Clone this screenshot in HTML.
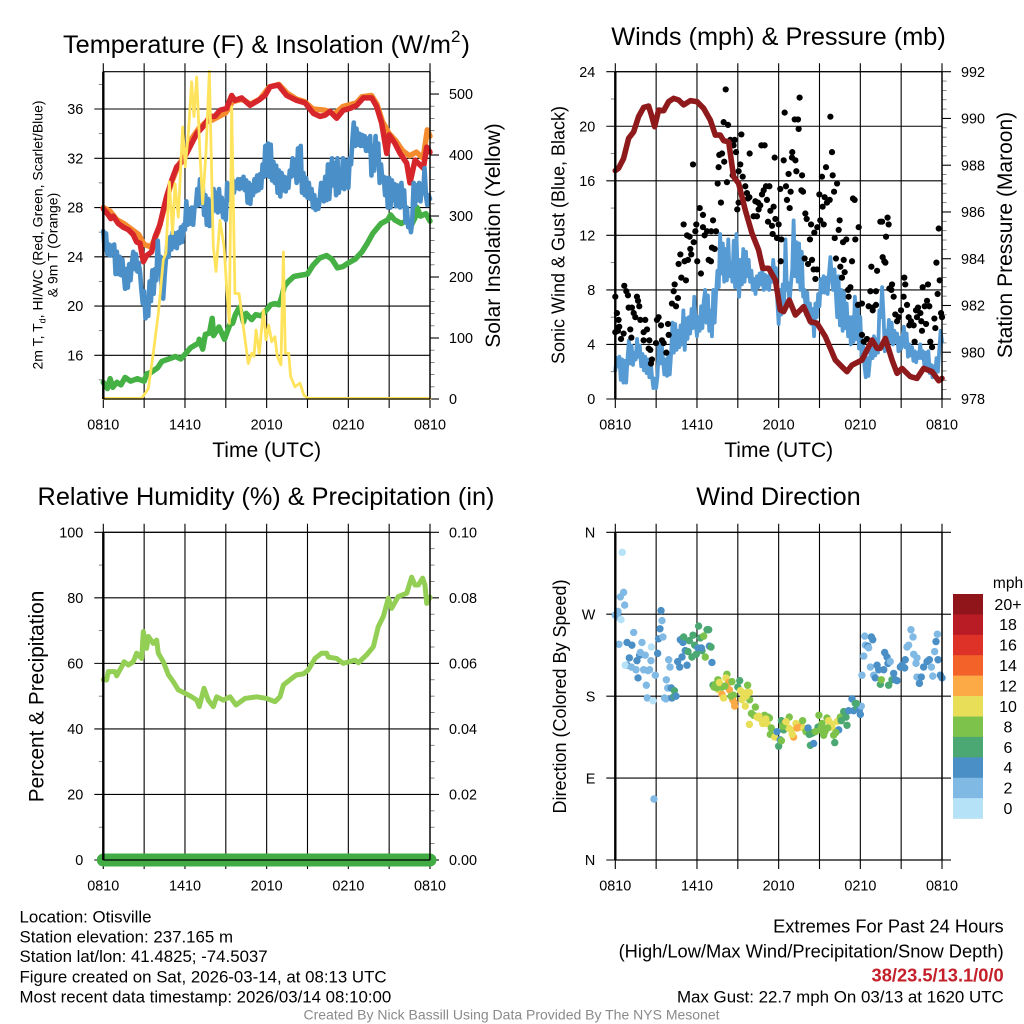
<!DOCTYPE html>
<html lang="en">
<head>
<meta charset="utf-8">
<title>Otisville Station Meteogram</title>
<style>
html,body{margin:0;padding:0;background:#fff;}
svg{display:block;}
text{font-family:"Liberation Sans",Arial,sans-serif;fill:#000;}
</style>
</head>
<body>
<svg id="fig" xmlns="http://www.w3.org/2000/svg" width="1024" height="1024" viewBox="0 0 1024 1024">
<rect x="0" y="0" width="1024" height="1024" fill="#fff"/>
<g id="layer"></g>

<text x="63" y="53" font-size="25.3">Temperature (F) &amp; Insolation (W/m<tspan font-size="17" dy="-11">2</tspan><tspan dy="11" dx="1">)</tspan></text>
<text x="778.5" y="45" font-size="25.3" text-anchor="middle">Winds (mph) &amp; Pressure (mb)</text>
<text x="266" y="505" font-size="25.3" text-anchor="middle">Relative Humidity (%) &amp; Precipitation (in)</text>
<text x="778.5" y="505" font-size="25.3" text-anchor="middle">Wind Direction</text>

<text x="266.7" y="457" font-size="21" text-anchor="middle">Time (UTC)</text>
<text x="778.7" y="457" font-size="21" text-anchor="middle">Time (UTC)</text>

<text transform="translate(42.7,235) rotate(-90)" font-size="14" text-anchor="middle">2m T, T<tspan font-size="9" dy="3">d</tspan><tspan dy="-3">, HI/WC (Red, Green, Scarlet/Blue)</tspan></text>
<text transform="translate(57.7,245) rotate(-90)" font-size="14" text-anchor="middle">&amp; 9m T (Orange)</text>
<text transform="translate(500,235.5) rotate(-90)" font-size="21" text-anchor="middle">Solar Insolation (Yellow)</text>
<text transform="translate(564.7,235) rotate(-90)" font-size="18" text-anchor="middle">Sonic Wind &amp; Gust (Blue, Black)</text>
<text transform="translate(1012,235) rotate(-90)" font-size="21" text-anchor="middle">Station Pressure (Maroon)</text>
<text transform="translate(43.3,696.5) rotate(-90)" font-size="20.8" text-anchor="middle">Percent &amp; Precipitation</text>
<text transform="translate(566,696.5) rotate(-90)" font-size="18" text-anchor="middle">Direction (Colored By Speed)</text>

<text x="1008" y="588" font-size="15.5" text-anchor="middle">mph</text>

<g font-size="16.85">
<text x="19.5" y="922.7">Location: Otisville</text>
<text x="19.5" y="942.7">Station elevation: 237.165 m</text>
<text x="19.5" y="962">Station lat/lon: 41.4825; -74.5037</text>
<text x="19.5" y="982.3">Figure created on Sat, 2026-03-14, at 08:13 UTC</text>
<text x="19.5" y="1002.3">Most recent data timestamp: 2026/03/14 08:10:00</text>
</g>
<g text-anchor="end">
<text x="1003.7" y="932.7" font-size="18.3">Extremes For Past 24 Hours</text>
<text x="1003.7" y="957.3" font-size="18.3">(High/Low/Max Wind/Precipitation/Snow Depth)</text>
<text x="1003.7" y="981.7" font-size="18.3" font-weight="bold" style="fill:#c4202a">38/23.5/13.1/0/0</text>
<text x="1003.7" y="1002.3" font-size="16.9">Max Gust: 22.7 mph On 03/13 at 1620 UTC</text>
</g>
<text x="511.5" y="1019.3" font-size="14" text-anchor="middle" style="fill:#8a8a8a">Created By Nick Bassill Using Data Provided By The NYS Mesonet</text>
</svg>

<script>
/* ---------- shared axis data ---------- */
const xTickHours = [0,3,6,9,12,15,18,21,24];
const xTickLabels = ['0810','','1410','','2010','','0210','','0810'];

const tempTicks = [16,20,24,28,32,36];
const tempMinor = [14,18,22,26,30,34,38];
const solarTicks = [0,100,200,300,400,500];
const solarMinor = [20,40,60,80,120,140,160,180,220,240,260,280,320,340,360,380,420,440,460,480,520];
const windTicks = [0,4,8,12,16,20,24];
const windMinor = [2,6,10,14,18,22];
const pressTicks = [978,980,982,984,986,988,990,992];
const pressMinor = [978.4,978.8,979.2,979.6,980.4,980.8,981.2,981.6,982.4,982.8,983.2,983.6,984.4,984.8,985.2,985.6,986.4,986.8,987.2,987.6,988.4,988.8,989.2,989.6,990.4,990.8,991.2,991.6];
const rhTicks = [0,20,40,60,80,100];
const rhMinor = [10,30,50,70,90];
const precipTicks = [0,0.02,0.04,0.06,0.08,0.10];
const precipTickLabels = ['0.00','0.02','0.04','0.06','0.08','0.10'];
const precipMinor = [0.005,0.01,0.015,0.025,0.03,0.035,0.045,0.05,0.055,0.065,0.07,0.075,0.085,0.09,0.095];
const dirTicks = [0,90,180,270,360];
const dirTickLabels = ['N','E','S','W','N'];

/* ---------- temperature panel ---------- */
const orangeTime = [0,.5,1,1.5,2,2.6,3,3.5,4,4.5,5,5.5,6,6.5,7,7.5,8,9,9.5,10.2,10.8,11.5,12.2,12.9,13.5,14.2,14.8,15.4,16.3,17,17.6,18.6,19,19.7,20.1,20.5,21,21.5,22,22.5,23,23.5,23.8,24];
const orangeTemp = [28,27.7,27,26.7,26.3,25.8,25,24.8,26,28,30,31.4,32.3,33.6,34.4,34.9,35.1,35.7,36.6,36.8,36.4,36.8,37.8,38,37.3,36.8,36.6,36,35.9,35.6,36.2,36.5,37,37.1,36.4,35,34,33.4,32.6,32.2,32.5,32,34.3,33.8];

const redTime = [0,.37,.55,.73,1.1,1.47,1.84,2.2,2.45,2.7,2.94,3.18,3.55,3.8,4.16,4.41,4.65,5.02,5.39,5.76,6.12,6.49,6.86,7.35,7.84,8.2,8.57,9.06,9.43,9.67,10.16,10.78,11.39,11.88,12.25,12.86,13.47,14.2,14.82,15.43,15.92,16.29,16.65,17.14,17.63,18.12,18.61,19.1,19.72,20.08,20.45,20.82,21,21.43,21.8,22.29,22.53,22.9,23.51,23.76,24];
const redTemp = [27.9,27.4,27.1,27.3,26.7,26.4,26.2,25.8,25.2,25.1,23.6,24.1,24.4,25.6,26.6,27.8,28.9,30.2,31.3,31.7,32.4,33.2,34,34.6,35.4,35.4,35.9,36.05,37.1,36.7,36.9,36.3,36.7,37.1,37.8,37.95,37.1,36.7,36.5,35.65,35.4,35.5,35.8,35.25,35.9,36.05,36.3,36.9,36.9,36.2,34.85,32.4,33.9,33.2,32.4,31.6,30,31.85,31.2,32.9,32.5];

const greenTime = [0,.3,.5,.7,1,1.3,1.6,2,2.5,3,3.2,3.5,4,4.3,4.8,5.3,5.7,6.1,6.4,7,7.05,7.3,7.5,7.8,8,8.1,8.5,8.9,9.3,9.5,9.7,10,10.3,10.5,10.9,11.2,11.6,12,12.3,12.6,12.9,13.1,13.3,13.6,14,14.5,15,15.4,15.9,16.4,16.8,17.2,17.6,18,18.5,19,19.4,19.8,20.4,20.9,21.1,21.4,21.9,22.2,22.6,23,23.05,23.3,23.7,24];
const greenTemp = [13.8,13.3,14.1,13.4,13.8,13.6,14.2,13.9,14.1,13.9,14.5,14.6,15,15.5,15.7,15.9,15.7,16.2,16.6,17,17.3,16.5,17.7,17.8,19,17.6,18.3,17.3,18.5,18.6,19.3,19.9,18.7,19.4,18.9,19.3,19.2,19.7,20.1,20.2,20.1,20.7,21.6,22,22.4,22.5,22.6,23.3,23.9,24.1,23.8,23.1,23.2,23.5,23.8,24.4,25.1,25.9,26.7,27,27.4,27,26.7,26.9,26.5,27.4,28,27.3,27.5,26.9];

/* dew point: one reading per 0.1 h from 0810 */
const dewStepHours = 0.1;
const dewTemp = [
26.1,24.6,25.9,24.2,25,24.1,24.9,24.3,25,22.6,
24.4,22.6,24,22.5,23.8,22.6,21.4,23,21.5,23.4,
22.1,23.5,24.4,23,24.2,22.8,23.5,22.7,21.3,20.2,
21.2,19,20,19.2,22,20.4,22.9,21,23,22.1,
25.3,23,24,21.2,20.6,22.4,23.8,25,24,25.6,
24.6,26,24.8,25.9,24.7,26,25.1,26.4,25.2,26.6,
26.2,28.5,26.6,27.8,26.7,28,26.6,28,28.1,29.5,
28.2,30.3,28.4,29.9,27.4,29,26.6,28.7,26.5,28.5,
27.6,29.5,27.8,29.2,27.6,29.5,27.7,28.8,27.2,28.5,
27,30,28.6,29.8,29,30.2,29.2,30.1,29.6,30.3,
29.5,30.3,29.6,30.5,29.4,30.2,28.4,30,28.3,29.8,
29,30.3,29.3,30.6,29.4,30.7,29.6,31.5,30.5,33,
30.6,33.2,30.5,33.1,30.2,31.7,30,31.4,29.2,31,
28.9,30.8,29.4,30.5,29.3,30.4,29.6,31,30.5,32,
30.6,31.8,30,32.8,30.2,33,29.2,30.8,29,30.4,
28.8,30,28.7,29.5,28,29,27.8,28.6,27.9,28.7,
30,28.8,28.5,30.5,28.6,31.5,28.7,30.4,32,29.8,
31.6,29,32,29.2,30.5,29.6,32,29.5,31.8,30,
29.6,32,31.5,33.5,34.9,33,34.4,33.1,34,33,
33.9,33,33.8,32.6,33.6,32.6,33.8,30.6,33,31,
33.8,31.5,33.2,30,31.5,30.2,30.5,29,30.4,28,
30.4,28,30.2,28.6,29.9,28.1,29.8,28.7,28,30,
28.2,29.4,26.8,28,26.4,26.9,26,27,30,28.2,
29.8,28.6,30,28.5,29.6,29.2,31.2,29,28.2,29,
28.7];

const solarTime = [0,2.82,3.31,3.67,4.04,4.41,4.6,4.85,5.09,5.27,5.51,5.83,6.02,6.25,6.49,6.66,6.86,7.1,7.3,7.54,7.79,8.08,8.28,8.57,8.87,9.06,9.26,9.43,9.67,9.97,10.29,10.65,10.9,11.07,11.22,11.46,11.76,11.95,12.15,12.37,12.61,12.78,13.05,13.23,13.37,13.62,13.76,14.08,14.45,14.74,15.06,24];
const solarFlux = [1,1,17,75,140,228,239,356,271,353,298,446,381,436,520,463,528,403,320,403,537,250,209,293,250,184,124,479,173,173,118,58,75,70,113,75,146,97,121,94,102,70,56,241,75,75,37,20,26,6,1,1];

/* ---------- wind panel ---------- */
/* sonic wind: one reading per 0.1 h from 0810 */
const windStepHours = 0.1;
const windSpeed = [
2.1,3,2.4,3.1,1.4,2.9,1.2,2.8,1.2,3,
4.3,2.6,3.9,2.5,3.4,2.9,4.4,3.1,3.9,2.4,
3.3,2.1,3.1,1.9,2.9,1.6,2.8,1.6,.8,1.5,
.8,1.7,4,2.6,4.2,2.9,1.8,2.9,1.7,3.3,
1.8,3.3,5.6,3.4,5.5,3.6,5,3.8,5.4,4,
6.5,3.6,5.9,4.4,6,4.8,6.6,5.2,7.5,5.6,
4.6,6,5,6.8,5.2,7.2,8,5.6,7.6,5,
6.5,4.6,8,5.6,7.7,9.4,8.2,12.1,9.2,11.4,
8.6,11,8.7,11.7,9,10,8.6,11.6,8.2,12.1,
9,7.5,10.2,8.4,11,8.6,10.8,9,10.2,8.6,
9.4,8,8.8,7.7,9,8.2,9.2,8.4,9.5,8,
9.1,8.1,9,8,9.6,8.6,10.2,8.8,9.6,7.2,
5.5,8,6.2,8.4,6.8,11.7,8,8.5,7,8.4,
9.5,13.1,9,11.5,8.6,11.4,8,10.8,7.5,8,
6.2,7.8,5.8,7,5.5,6.6,4.6,7,6,7.7,
6.8,8.8,7.8,9,7.8,8.9,7.7,9.2,10.4,9,
8,9.5,7.8,6,9,5.4,8,5,7.8,5.2,
7,4.6,6,4,6,4.2,7.5,4.4,7,3.7,
6,3.2,4,2.5,1.6,3,1.7,2.8,3.9,3,
4.6,3.2,4.4,3.4,6.5,6,8.2,6.2,3.5,5,
4,5.8,4.2,5.6,4,5,4.2,4.8,3.5,4.5,
3.7,4.6,5.3,3.8,4.8,3.1,4,3.2,3.8,2.8,
3.5,2.7,3.4,3,4,3,3.5,2.5,3.4,2.1,
3.5,1.9,2.5,1.6,2.4,1.9,3,2,3.6,5,
4.2];

const gustTime = [
0,.12,.24,0,.29,.2,.61,.42,.66,.81,
.93,.98,1.22,1.1,1.18,1.35,1.47,1.59,1.67,1.76,
1.84,2.2,2.33,2.08,2.08,2.5,2.45,2.57,2.69,2.62,
2.99,3.18,3.06,3.36,3.43,3.55,3.75,3.87,3.92,4.16,
4.46,4.6,4.29,4.36,4.65,4.78,4.85,5.19,5.02,5.09,
5.34,5.58,5.51,5.76,5.27,5.46,5.71,5.88,5.95,6.02,
6.29,6.2,6.44,6.44,6.56,6.74,6.86,7.03,7.1,7.3,
7.18,7.05,7.4,7.52,7.59,7.64,7.84,7.76,8,8.2,
7.96,8.28,8.11,8.45,8.62,8.77,8.69,8.87,9.18,9.06,
9.36,9.55,8.96,9.26,9.06,9.67,9.85,9.75,9.87,10.16,
10.41,10.29,10.48,10.65,10.53,10.73,10.97,10.78,10.9,11.07,
11.32,11.14,11.39,11.63,11.22,11.51,11.56,11.88,12.2,11.76,
12,11.71,12.12,12.44,12.37,12.54,12.61,12.73,12.81,12.88,
12.15,13,12.98,13.23,13.3,13.18,13.42,13.47,13.54,13.72,
13.67,13.79,13.96,14.06,14.38,13.91,14.16,14.45,14.3,14.62,
14.84,14.57,14.82,14.7,15.06,15.31,14.99,15.18,15.23,15.38,
15.55,15.75,15.48,15.8,15.92,15.97,16.07,16.29,16.12,16.21,
16.41,16.48,16.53,16.78,16.73,16.97,16.65,16.85,17.1,17.27,
17.14,17.39,17.46,17.58,17.63,17.88,17.83,18.12,18.12,18.25,
18.49,18.81,19.23,18.74,19.15,18.61,18.91,19.15,18.91,19.47,
19.6,20,20.08,19.89,19.64,19.76,19.84,20.13,20.33,20.28,
20.45,20.57,20.82,20.7,20.99,21.23,21.3,21.18,21.43,21.55,
21.72,21.92,21.6,21.99,22.09,22.24,22.16,22.41,22.58,22.97,
22.48,22.83,22.53,22.73,22.9,23.07,23.14,23.27,23.44,23.51,
23.59,23.68,23.76,23.83,23.93,24];
const gustSpeed = [
7.5,6.3,5.8,4.9,5.3,5,4.8,4.4,8.3,7.9,
7.6,6.7,6.7,5.1,4.5,6.3,6,7.5,7.2,6.8,
5.8,5.8,5.1,4.9,4.3,4.3,3.7,3.6,2.9,2.6,
4.1,6,5.8,5.4,4.3,4.1,3.4,5.5,4.7,7,
6.8,7.4,7.9,8.4,9.9,10.6,8.9,8.7,12.8,10.1,
10.2,10.6,11,11.5,12,11.9,17.2,12.3,12.8,10.1,
9.2,14,13.5,12.6,12,12.3,10.2,10.1,11.1,11,
13.1,12.3,12.3,15.8,17,17.9,18,14.4,17.4,15.9,
20.3,20.1,22.7,19,16.4,19,18.6,18.1,17.2,16.7,
16.3,15.6,13.9,19.4,14.4,15.1,14.8,14.7,18,13.4,
13.4,14.5,14.4,14.2,13.9,18.6,18.6,15,15.3,15.6,
15.6,14.6,13.8,14.1,13,12.7,12.1,11.8,11.7,13.2,
12.8,17.7,15.4,21,17.5,15.6,14.6,16.5,14,15.2,
10.1,18.1,17.7,17.5,16.7,20.5,20.5,19.8,22.1,16.4,
15.3,15.2,13.6,13.2,12.8,10.3,9.9,10.2,11.7,12.2,
12.6,9.5,9.5,8.8,13.1,12.8,15,16.3,14.1,14.8,
14.4,14.6,17,20.7,18.1,16.4,15.2,15.8,11.8,10.3,
12.4,13.1,9.7,10.2,11.5,11.7,8.9,9.3,8,8.2,
7.5,10.1,14.7,14.6,11.7,12.6,6.9,7,4.7,4.2,
4.4,9.7,9.4,7.9,7.9,6.8,6.7,6.9,6.5,13,
13,13.3,12.8,11.9,10.4,10.1,10,8.1,8.4,8,
7.5,6.2,6,5.7,6.5,8.9,8.4,7.5,6.9,6,
5.7,5.4,5.4,4.2,6.5,6.7,6,6.3,8.2,8.4,
5.7,5.5,5,6.8,7.2,6.8,4.2,3.8,5.9,5.2,
10,7.7,12.5,8.7,6.3,6];

const pressTime = [0,.24,.61,.98,1.35,1.71,2.08,2.45,2.65,2.89,3.18,3.55,3.92,4.29,4.65,5.02,5.51,6,6.49,6.98,7.35,7.71,7.96,8.33,8.69,9.06,9.55,10.04,10.53,10.83,11.27,11.76,12.12,12.37,12.78,13.23,13.84,14.33,14.82,15.43,16.16,16.65,17.02,17.39,18.12,18.86,19.23,19.47,19.84,20.33,20.7,21.06,21.67,22.16,22.65,23.27,23.76,24];
const pressMb = [987.77,987.87,988.29,989.15,989.43,990.08,990.47,990.53,990.15,989.65,990.36,990.33,990.72,990.86,990.79,990.58,990.76,990.72,990.43,989.93,989.29,989.29,989.05,989,987.51,987.22,986.08,985.09,984.37,983.59,983.59,983.09,981.81,981.74,982.23,981.59,981.95,981.31,981.24,980.67,979.67,979.38,979.17,979.45,979.67,980.52,980.17,980.17,980.59,979.67,979.1,979.31,978.96,978.88,979.31,979.17,978.78,978.88];

/* ---------- humidity / precip panel ---------- */
const rhTime = [0,.24,.37,.86,.98,1.35,1.53,1.84,2.2,2.45,2.82,2.94,3.18,3.31,3.67,3.92,4.04,4.41,4.78,5.14,5.51,6,6.49,6.86,7.05,7.4,7.71,8.08,8.33,8.82,9.31,9.75,10.41,11.27,12,12.61,12.98,13.23,13.84,14.2,14.7,15.06,15.55,16.04,16.41,16.53,17.14,17.63,18.49,18.74,19.35,19.84,20.2,20.57,20.94,21.18,21.67,22.29,22.65,22.9,23.14,23.46,23.63,23.76,24];
const rhPct = [55.1,54.9,57.5,57.5,56.2,59,60.5,59.5,60.5,63.1,61.5,69.7,64.6,68.2,66.1,67.1,63.1,60.5,56.5,54.4,51.9,50.9,49.8,48.8,46.8,52.4,48.8,46.8,49.8,48.8,49.8,47.3,49.3,49.8,49.3,48.3,49.8,53.4,55.4,56.5,56.8,58,61.5,63.1,63.1,61.9,61.5,60,61,60.2,62.6,65.1,71.2,74.3,79.9,76.8,80.4,81.4,86.3,83.9,83.9,86,83.9,78.3,80.2];
const precipTime = [0,24];
const precipInches = [0,0];

/* ---------- wind direction panel ---------- */
const dirTime = [
0,.2,.37,.61,.69,.2,.42,.51,.27,.86,
1.22,1.35,1.03,.86,.73,1.18,1.52,1.67,1.59,1.79,
1.84,1.96,2.2,2.08,2.4,2.52,2.28,2.35,2.65,2.62,
2.77,2.94,2.84,3.11,3.18,3.28,3.36,3.43,3.5,3.75,
3.92,4.02,3.85,3.62,3.72,4.11,4.34,4.16,4.34,4.46,
4.58,4.73,4.78,4.9,4.97,5.02,5.14,5.27,5.34,5.44,
5.63,5.71,5.83,5.95,6.12,6.07,6.25,6.37,6.49,6.32,
6.61,6.74,6.86,6.91,7.03,7.1,7.18,7.35,7.54,7.71,
7.59,7.84,7.96,7.84,8.2,8.13,8.33,8.38,8.57,8.69,
8.62,8.77,8.74,9.14,9,9.31,9.43,9.55,9.67,9.85,
9.72,9.87,10.29,10,10.16,10.41,9.85,10.65,10.83,10.97,
11.22,11.32,11.14,10.9,11.46,11.39,11.71,11.88,12.12,12.2,
12,12.2,12.37,12.49,12.78,12.73,12.93,13.1,13.27,13.35,
13.52,13.76,13.84,14.01,14.16,14.4,14.33,14.57,14.55,14.89,
14.96,15.06,15.18,15.31,15.4,15.55,15.67,15.8,15.92,16.04,
16.12,16.29,16.41,16.53,16.78,16.95,17.02,17.14,17.39,17.51,
17.63,17.76,17.93,18,18.07,18.12,18.25,18.32,18.37,18.56,
18.61,18.81,18.91,18.74,18.98,19.1,19.23,19.35,19.47,19.54,
19.72,19.79,19.96,20.03,20.2,20.08,20.33,20.45,20.57,20.7,
20.94,21.06,21.3,21.26,21.43,21.55,21.72,21.87,21.92,22.09,
22.16,22.16,22.34,22.48,22.65,22.9,23.07,23.22,23.32,23.46,
23.56,23.66,23.71,23.88,24,
7.25,7.45,7.65,8.05,8.5,9.2,9.6,10.55,11.05,12.3,
12.55,13,14.25,14.7,15.15,15.25,15.6,16.2,16.6,17.7];
const dirDeg = [
269,273,289,294,280,267,264,338,237,239,
236,250,222,214,214,212,209,200,219,225,
228,239,225,209,208,209,192,178,234,219,
175,203,67,227,243,254,274,263,245,198,
220,212,189,178,177,189,186,178,180,180,
218,212,242,223,239,245,230,214,229,241,
223,247,236,226,257,233,244,230,246,233,
223,253,253,235,234,217,192,193,198,192,
187,182,178,190,204,200,195,187,196,181,
176,169,173,197,190,176,181,169,184,184,
192,176,168,161,159,157,149,155,150,159,
157,156,150,150,145,138,135,141,132,153,
125,131,143,151,157,145,143,135,150,145,
146,153,145,141,145,139,126,128,140,146,
159,143,150,137,141,156,153,150,146,137,
129,152,143,157,163,157,148,164,177,164,
172,168,165,160,169,203,224,246,236,235,
233,245,242,212,203,200,214,209,193,198,
209,228,223,216,218,192,198,205,198,197,
212,214,220,211,234,236,253,245,226,216,
222,201,194,201,212,218,220,212,202,229,
240,248,220,203,200,
190,189,195,191,180,186,180,158,155,147,
152,138,138,141,146,141,145,140,153,172];
const dirSpeed = [
2,2,2,2,2,2,0,0,2,4,
4,2,4,4,0,2,2,4,4,4,
2,2,2,2,2,2,2,2,0,2,
0,2,2,4,4,4,4,2,2,2,
2,2,2,2,2,4,6,4,6,4,
4,4,4,4,4,6,4,4,6,6,
6,6,6,6,6,4,6,6,8,4,
8,6,6,4,6,4,6,8,8,12,
10,12,10,8,8,10,12,12,8,8,
12,12,12,6,6,10,10,10,10,10,
8,8,8,8,8,10,10,10,10,8,
8,8,10,10,8,8,10,4,4,6,
6,8,6,12,8,10,10,12,10,12,
12,8,10,8,4,6,6,4,6,6,
8,8,8,8,8,8,10,10,10,8,
6,10,4,8,6,6,6,4,4,4,
6,6,4,4,2,2,2,2,2,4,
2,4,4,2,2,4,4,4,6,8,
4,4,4,4,2,6,6,4,4,4,
4,4,4,4,2,2,2,2,2,2,
2,2,4,4,4,4,4,2,2,2,
4,2,4,4,4,
8,8,10,8,8,10,10,10,10,8,
10,10,6,8,8,8,8,8,6,6];

/* ---------- legend ---------- */
const legendLabels = ['20+','18','16','14','12','10','8','6','4','2','0'];
const legendColors = ['#90151a','#b91c25','#de3127','#f26229','#fbaa45','#e8de58','#7cc24b','#4ba872','#4a8fc6','#7fb9e4','#b6e2f8'];

/* ---------- drawing ---------- */
const NS = 'http://www.w3.org/2000/svg';
const layer = document.getElementById('layer');
const panelTL = {x0:103.3, x1:430, top:71.7, bot:399};
const panelTR = {x0:615.3, x1:942, top:71.7, bot:399};
const panelBL = {x0:103.3, x1:430, top:532.3, bot:860};
const panelBR = {x0:615.3, x1:942, top:532.3, bot:860};
const tempDomain = [12.45, 39.03];
const solarDomain = [0, 536.6];
const windDomain = [0, 24];
const pressDomain = [978, 992];
const rhDomain = [0, 100];
const precipDomain = [0, 0.1];
const dirDomain = [0, 360];

function xOf(p, h){ return p.x0 + (p.x1 - p.x0) * h / 24; }
function yOf(p, dom, v){ return p.bot - (p.bot - p.top) * (v - dom[0]) / (dom[1] - dom[0]); }

function addLine(x1, y1, x2, y2, stroke, width, name){
  const e = document.createElementNS(NS, 'line');
  e.setAttribute('x1', x1); e.setAttribute('y1', y1);
  e.setAttribute('x2', x2); e.setAttribute('y2', y2);
  e.setAttribute('stroke', stroke); e.setAttribute('stroke-width', width);
  
  
  layer.appendChild(e);
}
function addText(x, y, str, anchor, size, name){
  const e = document.createElementNS(NS, 'text');
  e.setAttribute('x', x); e.setAttribute('y', y);
  e.setAttribute('font-size', size);
  e.setAttribute('text-anchor', anchor);
  e.textContent = str;
  
  
  layer.appendChild(e);
}
function addSeries(p, dom, times, vals, color, width, name){
  const e = document.createElementNS(NS, 'path');
  let d = '';
  for (let i = 0; i < vals.length; i++) {
    d += (i ? 'L' : 'M') + xOf(p, times[i]).toFixed(2) + ' ' + yOf(p, dom, vals[i]).toFixed(2);
  }
  e.setAttribute('d', d);
  e.setAttribute('fill', 'none');
  e.setAttribute('stroke', color);
  e.setAttribute('stroke-width', width);
  e.setAttribute('stroke-linejoin', 'round');
  e.setAttribute('stroke-linecap', 'round');
  
  
  layer.appendChild(e);
}
function addDot(x, y, r, color, name){
  const e = document.createElementNS(NS, 'circle');
  e.setAttribute('cx', x); e.setAttribute('cy', y); e.setAttribute('r', r);
  e.setAttribute('fill', color);
  
  
  layer.appendChild(e);
}

/* grid + labels for a panel */
function drawFrame(p, opt){
  xTickHours.forEach((h, i) => {
    const x = xOf(p, h);
    addLine(x, p.top - 8.5, x, p.bot + 9, '#000', 1.1, 'x-grid-line');
    if (xTickLabels[i]) addText(x, p.bot + 30.3, xTickLabels[i], 'middle', 14.4, 'x-tick-label');
  });
  opt.left.forEach((v, i) => {
    const y = yOf(p, opt.leftDom, v);
    addLine(p.x0 - 9, y, p.x1, y, '#000', 1.1, 'y-grid-line');
    addText(p.x0 - 20, y + 5.2, opt.leftLabels ? opt.leftLabels[i] : String(v), 'end', 14.4, 'left-tick-label');
  });
  (opt.leftMinor || []).forEach(v => {
    const y = yOf(p, opt.leftDom, v);
    addLine(p.x0 - 4.5, y, p.x0, y, '#666', 0.8, 'left-minor-tick');
  });
  (opt.right || []).forEach((v, i) => {
    const y = yOf(p, opt.rightDom, v);
    addLine(p.x1, y, p.x1 + 9, y, '#000', 1.1, 'right-major-tick');
    addText(p.x1 + 19, y + 5.2, opt.rightLabels ? opt.rightLabels[i] : String(v), 'start', 14.4, 'right-tick-label');
  });
  (opt.rightMinor || []).forEach(v => {
    const y = yOf(p, opt.rightDom, v);
    addLine(p.x1, y, p.x1 + 4.5, y, '#666', 0.8, 'right-minor-tick');
  });
}
function drawBorder(p){
  addLine(p.x0, p.top, p.x1, p.top, '#000', 1.2, 'frame-top');
  addLine(p.x0, p.bot, p.x1, p.bot, '#000', 1.2, 'frame-bottom');
  addLine(p.x0, p.top, p.x0, p.bot, '#000', 2.4, 'frame-left');
  addLine(p.x1, p.top, p.x1, p.bot, '#000', 1.4, 'frame-right');
}

const dewTime = dewTemp.map((_, i) => i * dewStepHours);
const windTime = windSpeed.map((_, i) => i * windStepHours);

/* top-left */
drawFrame(panelTL, {left:tempTicks, leftDom:tempDomain, leftMinor:tempMinor, right:solarTicks, rightDom:solarDomain, rightMinor:solarMinor});
addSeries(panelTL, tempDomain, orangeTime, orangeTemp, '#f58b2f', 5.5, 'series-9m-temperature');
addSeries(panelTL, tempDomain, redTime, redTemp, '#d6252b', 5.5, 'series-2m-temperature');
addSeries(panelTL, tempDomain, greenTime, greenTemp, '#45b044', 5.5, 'series-heat-index-wind-chill');
addSeries(panelTL, tempDomain, dewTime, dewTemp, '#4a8fc7', 4.6, 'series-dew-point');
addSeries(panelTL, solarDomain, solarTime, solarFlux, '#ffe35c', 2.8, 'series-solar-insolation');
drawBorder(panelTL);

/* top-right */
drawFrame(panelTR, {left:windTicks, leftDom:windDomain, leftMinor:windMinor, right:pressTicks, rightDom:pressDomain, rightMinor:pressMinor});
addSeries(panelTR, windDomain, windTime, windSpeed, '#569bd3', 3.8, 'series-sonic-wind');
for (let i = 0; i < gustTime.length; i++) {
  addDot(xOf(panelTR, gustTime[i]), yOf(panelTR, windDomain, gustSpeed[i]), 3.1, '#000', 'gust-point');
}
addSeries(panelTR, pressDomain, pressTime, pressMb, '#8f1a1c', 5.6, 'series-station-pressure');
drawBorder(panelTR);

/* bottom-left */
drawFrame(panelBL, {left:rhTicks, leftDom:rhDomain, leftMinor:rhMinor, right:precipTicks, rightLabels:precipTickLabels, rightDom:precipDomain, rightMinor:precipMinor});
addSeries(panelBL, rhDomain, rhTime, rhPct, '#92cf54', 5, 'series-relative-humidity');
addSeries(panelBL, precipDomain, precipTime, precipInches, '#41ac44', 13, 'series-precipitation');
drawBorder(panelBL);

/* bottom-right */
drawFrame(panelBR, {left:dirTicks, leftLabels:dirTickLabels, leftDom:dirDomain, right:[], rightDom:dirDomain});
dirTicks.forEach(v => {
  const y = yOf(panelBR, dirDomain, v);
  addLine(panelBR.x1, y, panelBR.x1 + 9, y, '#000', 1.1, 'right-major-tick');
});
for (let i = 0; i < dirTime.length; i++) {
  const idx = 10 - Math.min(10, Math.floor(dirSpeed[i] / 2));
  addDot(xOf(panelBR, dirTime[i]), yOf(panelBR, dirDomain, dirDeg[i]), 3.7, legendColors[idx], 'wind-direction-point');
}
drawBorder(panelBR);

/* legend */
const legX = 953, legW = 30, legTop = 594, legH = 20.42;
legendLabels.forEach((lab, i) => {
  const r = document.createElementNS(NS, 'rect');
  r.setAttribute('x', legX);
  r.setAttribute('y', legTop + i * legH);
  r.setAttribute('width', legW);
  r.setAttribute('height', legH + 0.2);
  r.setAttribute('fill', legendColors[i]);
  
  
  layer.appendChild(r);
  addText(1008, legTop + (i + 0.5) * legH + 5.6, lab, 'middle', 16, 'legend-label');
});
</script>
</body>
</html>
